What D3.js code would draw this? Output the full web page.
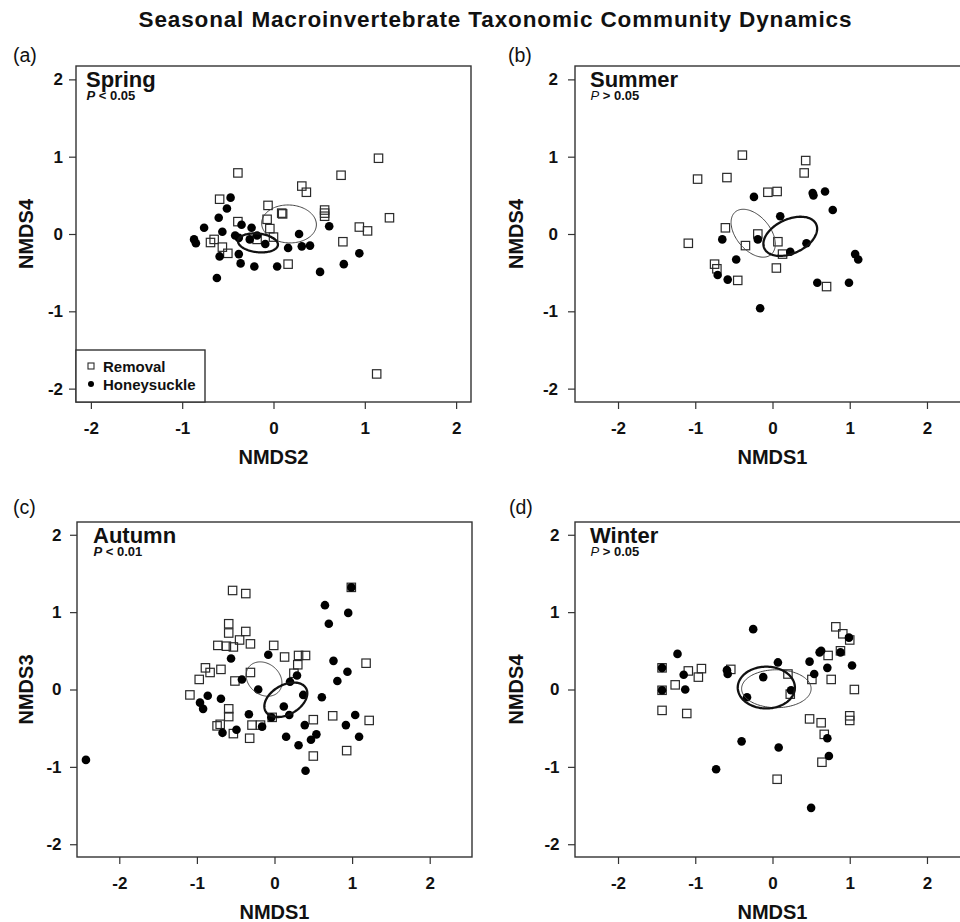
<!DOCTYPE html>
<html>
<head>
<meta charset="utf-8">
<script src="https://cdnjs.cloudflare.com/ajax/libs/d3/7.8.5/d3.min.js"></script>
<style>
  html, body { margin: 0; padding: 0; background: #fff; }
  svg { display: block; font-family: "Liberation Sans", Arial, Helvetica, sans-serif; }
</style>
</head>
<body>
<svg id="chart" width="960" height="922"></svg>
<script>
(function () {
  'use strict';

  // ── NMDS scores ────────────────────────────────────────────────────────────
  var TICKS = [-2, -1, 0, 1, 2];

  var springRemoval = [
    [1.15, 0.98], [-0.39, 0.79], [0.74, 0.76], [0.31, 0.62], [0.36, 0.54], [-0.59, 0.45],
    [-0.06, 0.37], [0.09, 0.27], [0.10, 0.26], [0.56, 0.31], [0.56, 0.27], [0.56, 0.23],
    [1.27, 0.21], [-0.07, 0.19], [-0.39, 0.16], [-0.04, 0.07], [0.94, 0.09], [1.03, 0.04],
    [0.00, -0.04], [-0.18, -0.07], [0.76, -0.10], [-0.65, -0.07], [-0.69, -0.11],
    [-0.56, -0.17], [-0.50, -0.25], [0.16, -0.39], [1.13, -1.81]
  ];
  var springHoney = [
    [-0.47, 0.47], [-0.51, 0.33], [-0.60, 0.21], [-0.76, 0.08], [-0.56, 0.03], [-0.87, -0.07],
    [-0.85, -0.12], [-0.35, 0.12], [-0.24, 0.08], [-0.42, -0.02], [-0.38, -0.05], [-0.26, -0.07],
    [-0.18, -0.02], [-0.09, -0.13], [0.28, 0.00], [0.61, 0.10], [0.16, -0.18], [0.31, -0.16],
    [0.40, -0.15], [-0.59, -0.29], [-0.38, -0.26], [-0.36, -0.38], [-0.21, -0.42], [0.04, -0.42],
    [0.51, -0.49], [0.77, -0.39], [0.94, -0.25], [-0.62, -0.57]
  ];

  var summerRemoval = [
    [-0.39, 1.02], [0.43, 0.95], [0.41, 0.79], [-0.97, 0.71], [-0.59, 0.73], [-0.06, 0.54],
    [0.06, 0.55], [-0.61, 0.08], [-1.09, -0.12], [-0.19, 0.00], [-0.35, -0.15], [0.07, -0.10],
    [0.13, -0.26], [0.05, -0.44], [-0.75, -0.39], [-0.72, -0.45], [-0.45, -0.60], [0.70, -0.68]
  ];
  var summerHoney = [
    [-0.24, 0.48], [0.52, 0.53], [0.53, 0.50], [0.68, 0.55], [0.78, 0.31], [0.10, 0.23],
    [-0.65, -0.07], [-0.19, -0.07], [0.44, -0.12], [0.23, -0.23], [-0.47, -0.33], [-0.71, -0.53],
    [-0.58, -0.59], [-0.16, -0.96], [0.58, -0.63], [0.99, -0.63], [1.07, -0.26], [1.11, -0.33]
  ];

  var autumnRemoval = [
    [-0.54, 1.28], [-0.37, 1.24], [0.99, 1.32], [-0.59, 0.85], [-0.59, 0.73], [-0.37, 0.75],
    [-0.45, 0.64], [-0.31, 0.59], [-0.73, 0.57], [-0.62, 0.56], [-0.53, 0.55], [-0.01, 0.57],
    [0.13, 0.42], [0.31, 0.44], [0.40, 0.44], [0.30, 0.32], [1.18, 0.34], [-0.89, 0.28],
    [-0.83, 0.22], [-0.69, 0.26], [-0.97, 0.13], [-0.31, 0.22], [-0.51, 0.11], [0.25, 0.21],
    [-1.09, -0.07], [-0.59, -0.25], [-0.59, -0.35], [-0.74, -0.47], [-0.70, -0.45],
    [-0.29, -0.46], [-0.18, -0.46], [-0.53, -0.57], [-0.32, -0.63], [-0.03, -0.36],
    [0.50, -0.39], [0.75, -0.34], [1.22, -0.40], [0.50, -0.86], [0.93, -0.79]
  ];
  var autumnHoney = [
    [0.99, 1.32], [0.65, 1.09], [0.95, 0.99], [0.70, 0.85], [-0.56, 0.40], [-0.08, 0.45],
    [0.76, 0.37], [0.94, 0.23], [0.81, 0.11], [-0.42, 0.13], [-0.21, 0.00], [0.20, 0.10],
    [0.29, 0.18], [0.37, -0.07], [0.61, -0.10], [-0.86, -0.08], [-0.69, -0.12], [-0.96, -0.17],
    [-0.92, -0.25], [0.12, -0.22], [0.19, -0.33], [-0.04, -0.36], [-0.33, -0.32], [-0.16, -0.48],
    [-0.49, -0.52], [-0.67, -0.56], [0.39, -0.46], [0.15, -0.61], [0.31, -0.72], [0.47, -0.65],
    [0.54, -0.58], [1.04, -0.33], [0.92, -0.46], [1.09, -0.61], [0.40, -1.05], [-2.43, -0.91]
  ];

  var winterRemoval = [
    [0.82, 0.81], [0.91, 0.72], [1.00, 0.64], [0.72, 0.44], [0.88, 0.50], [-1.09, 0.24],
    [-0.92, 0.27], [-0.96, 0.16], [-1.26, 0.06], [-1.43, 0.28], [-1.43, -0.01], [-1.43, -0.27],
    [-1.11, -0.31], [-0.54, 0.26], [0.20, 0.20], [0.51, 0.13], [0.76, 0.13], [1.06, 0.00],
    [0.23, -0.06], [0.48, -0.38], [0.63, -0.43], [1.00, -0.34], [1.00, -0.40], [0.67, -0.58],
    [0.64, -0.94], [0.06, -1.16]
  ];
  var winterHoney = [
    [-0.25, 0.78], [-1.23, 0.46], [0.99, 0.67], [0.61, 0.48], [0.63, 0.50], [0.88, 0.48],
    [0.07, 0.35], [0.48, 0.36], [0.71, 0.28], [1.03, 0.31], [0.54, 0.20], [-1.43, 0.28],
    [-1.15, 0.19], [-0.59, 0.25], [-0.58, 0.20], [-0.12, 0.16], [-1.43, -0.01], [-1.13, 0.00],
    [0.24, -0.01], [-0.33, -0.10], [-0.40, -0.67], [0.08, -0.75], [0.71, -0.63], [0.73, -0.86],
    [-0.73, -1.03], [0.50, -1.53]
  ];

  // group ellipses (centre, semi-axes, rotation in degrees), data units
  var springEllipses = [
    { group: 'Removal', cx: 0.17, cy: 0.13, rx: 0.30, ry: 0.245, angle: -5 },
    { group: 'Honeysuckle', cx: -0.17, cy: -0.115, rx: 0.22, ry: 0.12, angle: -8 }
  ];
  var summerEllipses = [
    { group: 'Removal', cx: -0.25, cy: 0.01, rx: 0.36, ry: 0.22, angle: -50 },
    { group: 'Honeysuckle', cx: 0.23, cy: -0.03, rx: 0.37, ry: 0.22, angle: 25 }
  ];
  var autumnEllipses = [
    { group: 'Removal', cx: -0.135, cy: 0.135, rx: 0.25, ry: 0.20, angle: -40 },
    { group: 'Honeysuckle', cx: 0.146, cy: -0.133, rx: 0.30, ry: 0.19, angle: 30 }
  ];
  var winterEllipses = [
    { group: 'Removal', cx: 0.05, cy: 0.01, rx: 0.45, ry: 0.245, angle: 0 },
    { group: 'Honeysuckle', cx: -0.08, cy: 0.025, rx: 0.37, ry: 0.27, angle: 0 }
  ];

  var PANELS = [
    { tag: '(a)', season: 'Spring', pText: ' < 0.05', pBold: true, xLabel: 'NMDS2', yLabel: 'NMDS4',
      removal: springRemoval, honey: springHoney, ellipses: springEllipses, legend: true },
    { tag: '(b)', season: 'Summer', pText: ' > 0.05', pBold: false, xLabel: 'NMDS1', yLabel: 'NMDS4',
      removal: summerRemoval, honey: summerHoney, ellipses: summerEllipses, legend: false },
    { tag: '(c)', season: 'Autumn', pText: ' < 0.01', pBold: true, xLabel: 'NMDS1', yLabel: 'NMDS3',
      removal: autumnRemoval, honey: autumnHoney, ellipses: autumnEllipses, legend: false },
    { tag: '(d)', season: 'Winter', pText: ' > 0.05', pBold: false, xLabel: 'NMDS1', yLabel: 'NMDS4',
      removal: winterRemoval, honey: winterHoney, ellipses: winterEllipses, legend: false }
  ];

  var LAYOUT = [
    { left: 76,  top: 66,  h: 336, xMax: 2.163, yMax: 2.173, labPad: 6,   seasonDx: 10, yTitleX: 33,  tagX: 13,  tagY: 62 },
    { left: 575, top: 66,  h: 336, xMax: 2.557, yMax: 2.173, labPad: 10,  seasonDx: 15, yTitleX: 523, tagX: 508, tagY: 62 },
    { left: 77,  top: 522, h: 335, xMax: 2.545, yMax: 2.165, labPad: 8.5, seasonDx: 16, yTitleX: 33,  tagX: 13,  tagY: 514 },
    { left: 575, top: 522, h: 335, xMax: 2.557, yMax: 2.165, labPad: 8.5, seasonDx: 15, yTitleX: 523, tagX: 509, tagY: 514 }
  ];
  var W = 395;
  var INK = '#111';
  var SQ = 8.4;   // open square side
  var DOT = 4.3;  // filled circle radius

  var svg = d3.select('#chart');

  svg.append('text')
    .attr('x', 495).attr('y', 26.5)
    .attr('text-anchor', 'middle')
    .attr('font-size', 22.5).attr('font-weight', 'bold')
    .attr('textLength', 713).attr('lengthAdjust', 'spacing')
    .attr('fill', INK)
    .text('Seasonal Macroinvertebrate Taxonomic Community Dynamics');

  function ellipsePoints(e) {
    var th = e.angle * Math.PI / 180;
    return d3.range(0, 121).map(function (i) {
      var t = i / 120 * 2 * Math.PI;
      return [
        e.cx + e.rx * Math.cos(t) * Math.cos(th) - e.ry * Math.sin(t) * Math.sin(th),
        e.cy + e.rx * Math.cos(t) * Math.sin(th) + e.ry * Math.sin(t) * Math.cos(th)
      ];
    });
  }

  function drawPanel(cfg, lay) {
    var x = d3.scaleLinear().domain([-lay.xMax, lay.xMax]).range([lay.left, lay.left + W]);
    var y = d3.scaleLinear().domain([-lay.yMax, lay.yMax]).range([lay.top + lay.h, lay.top]);
    var g = svg.append('g').attr('class', 'panel');

    // axes
    var ax = g.append('g')
      .attr('transform', 'translate(0,' + (lay.top + lay.h) + ')')
      .call(d3.axisBottom(x).tickValues(TICKS).tickSize(7).tickSizeOuter(0).tickPadding(12.5)
        .tickFormat(d3.format('d')));
    var ay = g.append('g')
      .attr('transform', 'translate(' + lay.left + ',0)')
      .call(d3.axisLeft(y).tickValues(TICKS).tickSize(7).tickSizeOuter(0).tickPadding(lay.labPad)
        .tickFormat(d3.format('d')));
    [ax, ay].forEach(function (a) {
      a.select('.domain').remove();
      a.selectAll('line').attr('stroke', '#333').attr('stroke-width', 1.2);
      a.selectAll('text')
        .attr('fill', INK)
        .attr('font-size', 17).attr('font-weight', 'bold')
        .attr('font-family', '"Liberation Sans", Arial, sans-serif')
        .text(function (d) { return d < 0 ? '-' + Math.abs(d) : d; });
    });

    // frame
    g.append('rect')
      .attr('x', lay.left).attr('y', lay.top)
      .attr('width', W).attr('height', lay.h)
      .attr('fill', 'none').attr('stroke', '#333').attr('stroke-width', 1.4);

    // points: open squares first, filled circles over them
    g.append('g').selectAll('rect').data(cfg.removal).enter().append('rect')
      .attr('x', function (d) { return x(d[0]) - SQ / 2; })
      .attr('y', function (d) { return y(d[1]) - SQ / 2; })
      .attr('width', SQ).attr('height', SQ)
      .attr('fill', 'none').attr('stroke', '#2a2a2a').attr('stroke-width', 1.2);

    g.append('g').selectAll('circle').data(cfg.honey).enter().append('circle')
      .attr('cx', function (d) { return x(d[0]); })
      .attr('cy', function (d) { return y(d[1]); })
      .attr('r', DOT)
      .attr('fill', '#000');

    var line = d3.line()
      .x(function (p) { return x(p[0]); })
      .y(function (p) { return y(p[1]); })
      .curve(d3.curveLinearClosed);

    g.append('g').selectAll('path').data(cfg.ellipses).enter().append('path')
      .attr('d', function (e) { return line(ellipsePoints(e)); })
      .attr('fill', 'none')
      .attr('stroke', function (e) { return e.group === 'Removal' ? '#444' : '#111'; })
      .attr('stroke-width', function (e) { return e.group === 'Removal' ? 1 : 2.3; });

    // titles
    g.append('text')
      .attr('x', (lay.left + W / 2)).attr('y', lay.top + lay.h + 61.5)
      .attr('text-anchor', 'middle')
      .attr('font-size', 20).attr('font-weight', 'bold').attr('fill', INK)
      .text(cfg.xLabel);
    g.append('text')
      .attr('transform', 'translate(' + lay.yTitleX + ',' + (lay.top + lay.h / 2) + ') rotate(-90)')
      .attr('text-anchor', 'middle')
      .attr('font-size', 20).attr('font-weight', 'bold').attr('fill', INK)
      .text(cfg.yLabel);
    g.append('text')
      .attr('x', lay.tagX).attr('y', lay.tagY)
      .attr('font-size', 19.5).attr('fill', INK)
      .text(cfg.tag);

    g.append('text')
      .attr('x', lay.left + lay.seasonDx).attr('y', lay.top + 20.5)
      .attr('font-size', 22).attr('font-weight', 'bold').attr('fill', INK)
      .text(cfg.season);
    var pt = g.append('text')
      .attr('x', lay.left + lay.seasonDx + 0.5).attr('y', lay.top + 34)
      .attr('font-size', 13).attr('font-weight', 'bold').attr('fill', INK);
    pt.append('tspan').attr('font-style', 'italic')
      .attr('font-weight', cfg.pBold ? 'bold' : 'normal').text('P');
    pt.append('tspan').text(cfg.pText);

    if (cfg.legend) drawLegend(g, lay);
  }

  function drawLegend(g, lay) {
    var lx = lay.left, ly = lay.top + lay.h - 52;
    g.append('rect')
      .attr('x', lx).attr('y', ly).attr('width', 129).attr('height', 52)
      .attr('fill', '#fff').attr('stroke', '#333').attr('stroke-width', 1.4);
    g.append('rect')
      .attr('x', lx + 12).attr('y', ly + 13)
      .attr('width', 6).attr('height', 6)
      .attr('fill', 'none').attr('stroke', '#2a2a2a').attr('stroke-width', 1.1);
    g.append('circle')
      .attr('cx', lx + 15).attr('cy', ly + 34).attr('r', 3)
      .attr('fill', '#000');
    [['Removal', 21.5], ['Honeysuckle', 39.5]].forEach(function (row) {
      g.append('text')
        .attr('x', lx + 27).attr('y', ly + row[1])
        .attr('font-size', 15).attr('font-weight', 'bold').attr('fill', INK)
        .text(row[0]);
    });
  }

  PANELS.forEach(function (p, i) { drawPanel(p, LAYOUT[i]); });
})();
</script>
</body>
</html>
